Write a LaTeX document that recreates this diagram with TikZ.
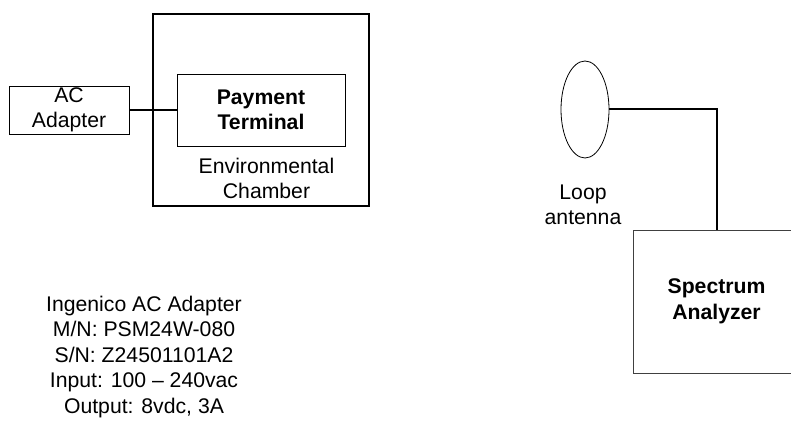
\documentclass[tikz,border=0pt]{standalone}
\usepackage{fontspec}
\setmainfont{Liberation Sans}
\usetikzlibrary{shapes.geometric}
\begin{document}
\begin{tikzpicture}[x=1pt,y=1pt,
  txt/.style={font=\fontsize{21.2}{25.5}\selectfont, align=center, inner sep=0pt},
  thinbox/.style={draw, line width=0.9pt, inner sep=0pt, align=center, font=\fontsize{21.2}{25.5}\selectfont},
  wire/.style={line width=2pt}]
\useasboundingbox (0,0) rectangle (791,420);
\clip (0,0) rectangle (791,420);
\fill[white] (0,0) rectangle (791,420);
% environmental chamber
\node[draw, line width=2pt, minimum width=216pt, minimum height=192pt, inner sep=0pt] (chamber) at (261,310) {};
\node[thinbox, minimum width=168pt, minimum height=72pt, font=\fontsize{21.2}{25.5}\selectfont\bfseries] (pt) at (261,310) {Payment\\Terminal};
\node[txt] (envlabel) at (266.5,241.5) {Environmental\\Chamber};
% AC adapter
\node[thinbox, minimum width=120pt, minimum height=48pt] (ac) at (69,310) {AC\\Adapter};
\draw[wire] (ac.east) -- (pt.west);
% Loop antenna
\node[draw, ellipse, line width=0.8pt, minimum width=48pt, minimum height=97pt, inner sep=0pt] (ant) at (585,310.5) {};
\node[txt] (antlabel) at (583,215) {Loop\\antenna};
% Spectrum analyzer
\node[thinbox, draw=black!75, minimum width=167pt, minimum height=143pt, font=\fontsize{21.2}{25.5}\selectfont\bfseries] (sa) at (716.5,118.5) {Spectrum\\Analyzer};
\draw[wire] (ant.east) -| (sa.north);
% adapter info
\node[txt] (info) at (144,63) {Ingenico AC Adapter\\M/N: PSM24W-080\\S/N: Z24501101A2\\Input: 100 -- 240vac\\Output: 8vdc, 3A};
\end{tikzpicture}
\end{document}
